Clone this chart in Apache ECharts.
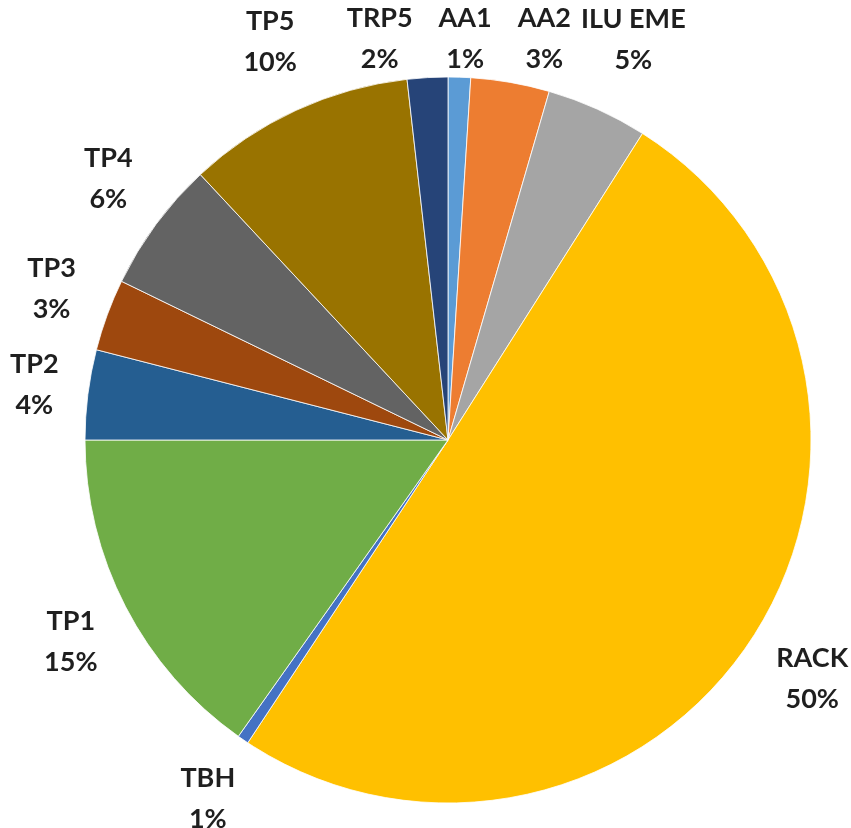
<!DOCTYPE html>
<html>
<head>
<meta charset="utf-8">
<script src="https://cdn.jsdelivr.net/npm/echarts@6/dist/echarts.min.js"></script>
<style>
  html, body { margin: 0; padding: 0; background: #fff; }
  #chart { width: 851px; height: 828px; }
</style>
</head>
<body>
<div id="chart"></div>
<script>
// slices, clockwise from 12 o'clock
const categories = ['AA1', 'AA2', 'ILU EME', 'RACK', 'TBH', 'TP1', 'TP2', 'TP3', 'TP4', 'TP5', 'TRP5'];
const values = [1.0, 3.5, 4.5, 50.3, 0.5, 15.2, 4.0, 3.2, 5.85, 10.15, 1.8];
// percentages as printed on the chart
const percentLabels = ['1%', '3%', '5%', '50%', '1%', '15%', '4%', '3%', '6%', '10%', '2%'];

const palette = ['#5B9BD5', '#ED7D31', '#A5A5A5', '#FFC000', '#4472C4', '#70AD47',
  '#255E91', '#9E480E', '#636363', '#997300', '#264478'];

const W = 851, H = 828;
const PAD = 13; // horizontal label padding, keeps the top labels apart
const chart = echarts.init(document.getElementById('chart'));

chart.setOption({
  animation: false,
  backgroundColor: '#fff',
  color: palette,
  series: [{
    type: 'pie',
    center: [448, 440],
    radius: 363,
    startAngle: 90,
    clockwise: true,
    avoidLabelOverlap: false,
    emphasis: { disabled: true },
    itemStyle: { borderColor: '#fff', borderWidth: 0.8 },
    label: {
      show: true,
      position: 'outside',
      formatter: p => p.name + '\n' + percentLabels[p.dataIndex],
      fontFamily: 'Lato',
      fontWeight: 'bold',
      fontSize: 27,
      lineHeight: 41,
      padding: [0, PAD],
      color: '#1f1f1f'
    },
    // invisible guide line, only used to get the slice direction
    labelLine: { show: true, length: 35, length2: 1, lineStyle: { opacity: 0 } },
    labelLayout: function (params) {
      const pts = params.labelLinePoints;
      if (!pts) return {};
      const ex = pts[1][0] - pts[0][0], ey = pts[1][1] - pts[0][1];
      const len = Math.hypot(ex, ey) || 1;
      const dx = ex / len, dy = ey / len;
      const w = params.labelRect.width - 2 * PAD, h = params.labelRect.height;
      let x = pts[1][0] + dx * w / 2;
      let y = pts[1][1] + dy * h / 2;
      y = Math.min(Math.max(y, h / 2 - 2), H - h / 2 + 12);
      x = Math.min(Math.max(x, w / 2 + 10), W - w / 2 - 2);
      const top = Math.abs(dx) < 0.3 && dy < 0;
      if (top) x -= 44; // labels over the top get spread by shiftX
      return {
        x: x,
        y: y,
        align: 'center',
        verticalAlign: 'middle',
        moveOverlap: top ? 'shiftX' : undefined
      };
    },
    data: categories.map((name, i) => ({ name: name, value: values[i] }))
  }]
});
</script>
</body>
</html>
